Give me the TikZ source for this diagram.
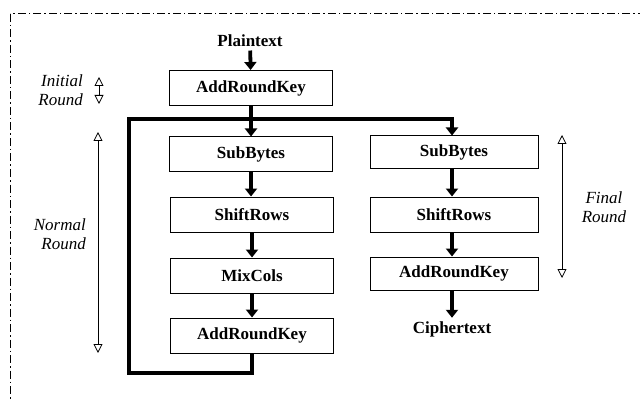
\documentclass[tikz,border=0pt]{standalone}
\usepackage{fontspec}
\setmainfont{Liberation Serif}
\usetikzlibrary{arrows.meta}
\begin{document}
\begin{tikzpicture}[x=1pt,y=-1pt,line join=miter,
  stage/.style={draw,line width=1pt,minimum width=163pt,minimum height=35pt,inner sep=0pt,font=\fontsize{17}{19}\selectfont\bfseries},
  endtext/.style={font=\fontsize{17}{19}\selectfont\bfseries},
  flow/.style={line width=3.8pt,-{Triangle[width=12pt,length=8pt]}},
  span/.style={line width=0.8pt,{Triangle[open,width=9pt,length=9pt]}-{Triangle[open,width=9pt,length=9pt]}},
  tag/.style={font=\fontsize{17}{19}\selectfont\itshape,inner sep=0pt}]
\useasboundingbox (0,0) rectangle (640,401);
\draw[line width=1pt,dash pattern=on 8pt off 3pt on 1.5pt off 3pt] (10,14) rectangle (690,450);
% main column
\node[endtext] (pt) at (250,41) {Plaintext};
\node[stage] (ark0) at (251,88) {AddRoundKey};
\node[stage] (sb1) at (251,154.5) {SubBytes};
\node[stage] (sr1) at (252,214.5) {ShiftRows};
\node[stage] (mc1) at (252,275.5) {MixCols};
\node[stage] (ark1) at (252,335.5) {AddRoundKey};
% last round
\node[stage,minimum width=168pt,minimum height=33pt] (sb2) at (454,152.5) {SubBytes};
\node[stage,minimum width=168pt] (sr2) at (454,214.5) {ShiftRows};
\node[stage,minimum width=168pt,minimum height=33pt] (ark2) at (454,273.5) {AddRoundKey};
\node[endtext] (ct) at (452,329) {Ciphertext};
\coordinate (fork) at (251,119);
\coordinate (back) at (129,373);
\draw[flow] (pt) -- (ark0);
\draw[flow] (ark0.south) -- (ark0.south |- sb1.north);
\draw[flow] (sb1.south) -- (sb1.south |- sr1.north);
\draw[flow] (sr1) -- (mc1);
\draw[flow] (mc1) -- (ark1);
\draw[flow] (ark1.south) |- (back) |- (fork) -| ([xshift=-2pt]sb2.north);
\draw[flow] ([xshift=-2pt]sb2.south) -- ([xshift=-2pt]sr2.north);
\draw[flow] ([xshift=-2pt]sr2.south) -- ([xshift=-2pt]ark2.north);
\draw[flow] ([xshift=-2pt]ark2.south) -- (ct);
% round spans
\coordinate (i0) at (99,77);
\coordinate (i1) at (99,104);
\coordinate (n0) at (98,132);
\coordinate (n1) at (98,353);
\coordinate (f0) at (562,135);
\coordinate (f1) at (562,278);
\draw[span] (i0) -- (i1);
\draw[span] (n0) -- (n1);
\draw[span] (f0) -- (f1);
\node[tag,align=right,anchor=east] (ini) at (83,90) {Initial\\Round};
\node[tag,align=right,anchor=east] (nor) at (86,234.5) {Normal\\Round};
\node[tag,align=center] (fin) at (604,207) {Final\\Round};
\end{tikzpicture}
\end{document}
